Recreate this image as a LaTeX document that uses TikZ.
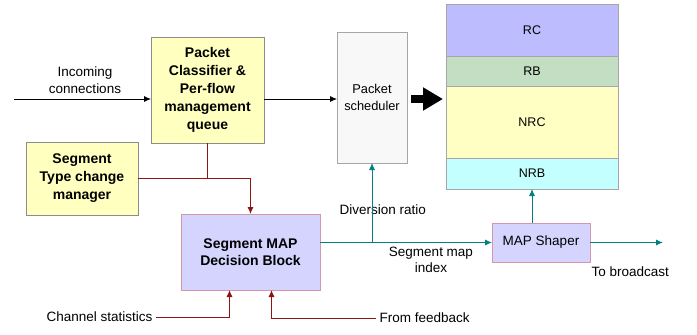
\documentclass[tikz,border=0pt]{standalone}
\usepackage{fontspec}
\setmainfont{Liberation Sans}
\usetikzlibrary{arrows.meta,positioning}
\definecolor{boxyellow}{RGB}{255,255,192}
\definecolor{schedgray}{RGB}{248,248,248}
\definecolor{rccol}{RGB}{188,188,255}
\definecolor{rbcol}{RGB}{196,222,196}
\definecolor{nrccol}{RGB}{255,255,196}
\definecolor{nrbcol}{RGB}{196,255,255}
\definecolor{decfill}{RGB}{212,212,255}
\definecolor{decborder}{RGB}{214,150,170}
\definecolor{redline}{RGB}{140,20,20}
\definecolor{tealline}{RGB}{0,128,128}

\begin{document}
\begin{tikzpicture}[x=1pt, y=-1pt,
    block/.style={draw=gray!90, fill=boxyellow, rectangle, align=center, outer sep=0pt, font=\fontsize{14}{18}\selectfont\bfseries},
    schedblock/.style={draw=gray!70, fill=schedgray, rectangle, align=center, outer sep=0pt, font=\fontsize{12.8}{17}\selectfont},
    buf/.style={draw=gray!70, rectangle, minimum width=172pt, outer sep=0pt, font=\fontsize{12.5}{14}\selectfont},
    decblock/.style={draw=decborder, fill=decfill, rectangle, align=center, outer sep=0pt, font=\fontsize{14}{17.5}\selectfont\bfseries},
    txt/.style={align=center, font=\fontsize{13.5}{16.5}\selectfont},
    arrow/.style={-{Latex[length=7pt, width=6pt]}, line width=0.8pt},
    bigarrow/.style={-{Triangle[length=20pt, width=22pt]}, line width=8pt, shorten <=4pt, shorten >=3pt},
    redarrow/.style={-{Latex[length=7pt, width=6pt]}, line width=0.9pt, draw=redline},
    tealarrow/.style={-{Latex[length=7pt, width=6pt]}, line width=0.9pt, draw=tealline}
]
\useasboundingbox (0,0) rectangle (697,335);

% Input side
\coordinate (in) at (14,99);
\node[txt] (incoming) at (85,80) {Incoming\\connections};
\node[block, minimum width=113pt, minimum height=106pt] (clf) at (207.5,90) {Packet\\Classifier \&\\Per-flow\\management\\queue};
\node[block, minimum width=112pt, minimum height=73pt] (stcm) at (82,178.5) {Segment\\Type change\\manager};

% Scheduler and buffer stack
\node[schedblock, minimum width=70pt, minimum height=131pt] (sched) at (372,97.5) {Packet\\scheduler};
\node[buf, fill=rccol, minimum height=52pt] (rc) at (532,30) {RC};
\node[buf, fill=rbcol, minimum height=30pt, below=0pt of rc] (rb) {RB};
\node[buf, fill=nrccol, minimum height=72pt, below=0pt of rb] (nrc) {NRC};
\node[buf, fill=nrbcol, minimum height=31pt, below=0pt of nrc] (nrb) {NRB};

% Decision and shaping
\node[decblock, minimum width=139pt, minimum height=76pt] (smdb) at (250.5,252) {Segment MAP\\Decision Block};
\node[decblock, font=\fontsize{13.5}{16}\selectfont, minimum width=98pt, minimum height=39pt] (shaper) at (541,242.5) {MAP Shaper};
\coordinate (bcast) at (663,242.5);
\coordinate (split) at (sched.south |- shaper.west);

% Labels
\node[txt, anchor=east] (chan) at (156,317) {Channel statistics};
\node[txt, anchor=west] (fb) at (376,318) {From feedback};
\node[txt, anchor=west] (divr) at (336,210) {Diversion ratio};
\node[txt] (smi) at (431,260) {Segment map\\index};
\node[txt, anchor=west] (tob) at (588,272) {To broadcast};

% Arrows
\draw[arrow] (in) -- (in -| clf.west);
\draw[arrow] (clf.east |- in) -- (sched.west |- in);
\draw[bigarrow] (sched.east |- in) -- (rc.west |- in);
\draw[redarrow, -] (clf.south) -- (clf.south |- stcm.east);
\draw[redarrow] (stcm.east) -| (smdb.north);
\draw[redarrow] (chan.east) -| ([xshift=-21pt]smdb.south);
\draw[redarrow] (fb.west) -| ([xshift=21pt]smdb.south);
\draw[tealarrow] (smdb.east |- shaper.west) -- (shaper.west);
\draw[tealarrow] (split) -- (sched.south);
\draw[tealarrow] (nrb.south |- shaper.north) -- (nrb.south);
\draw[tealarrow] (shaper.east) -- (bcast);

\end{tikzpicture}
\end{document}
